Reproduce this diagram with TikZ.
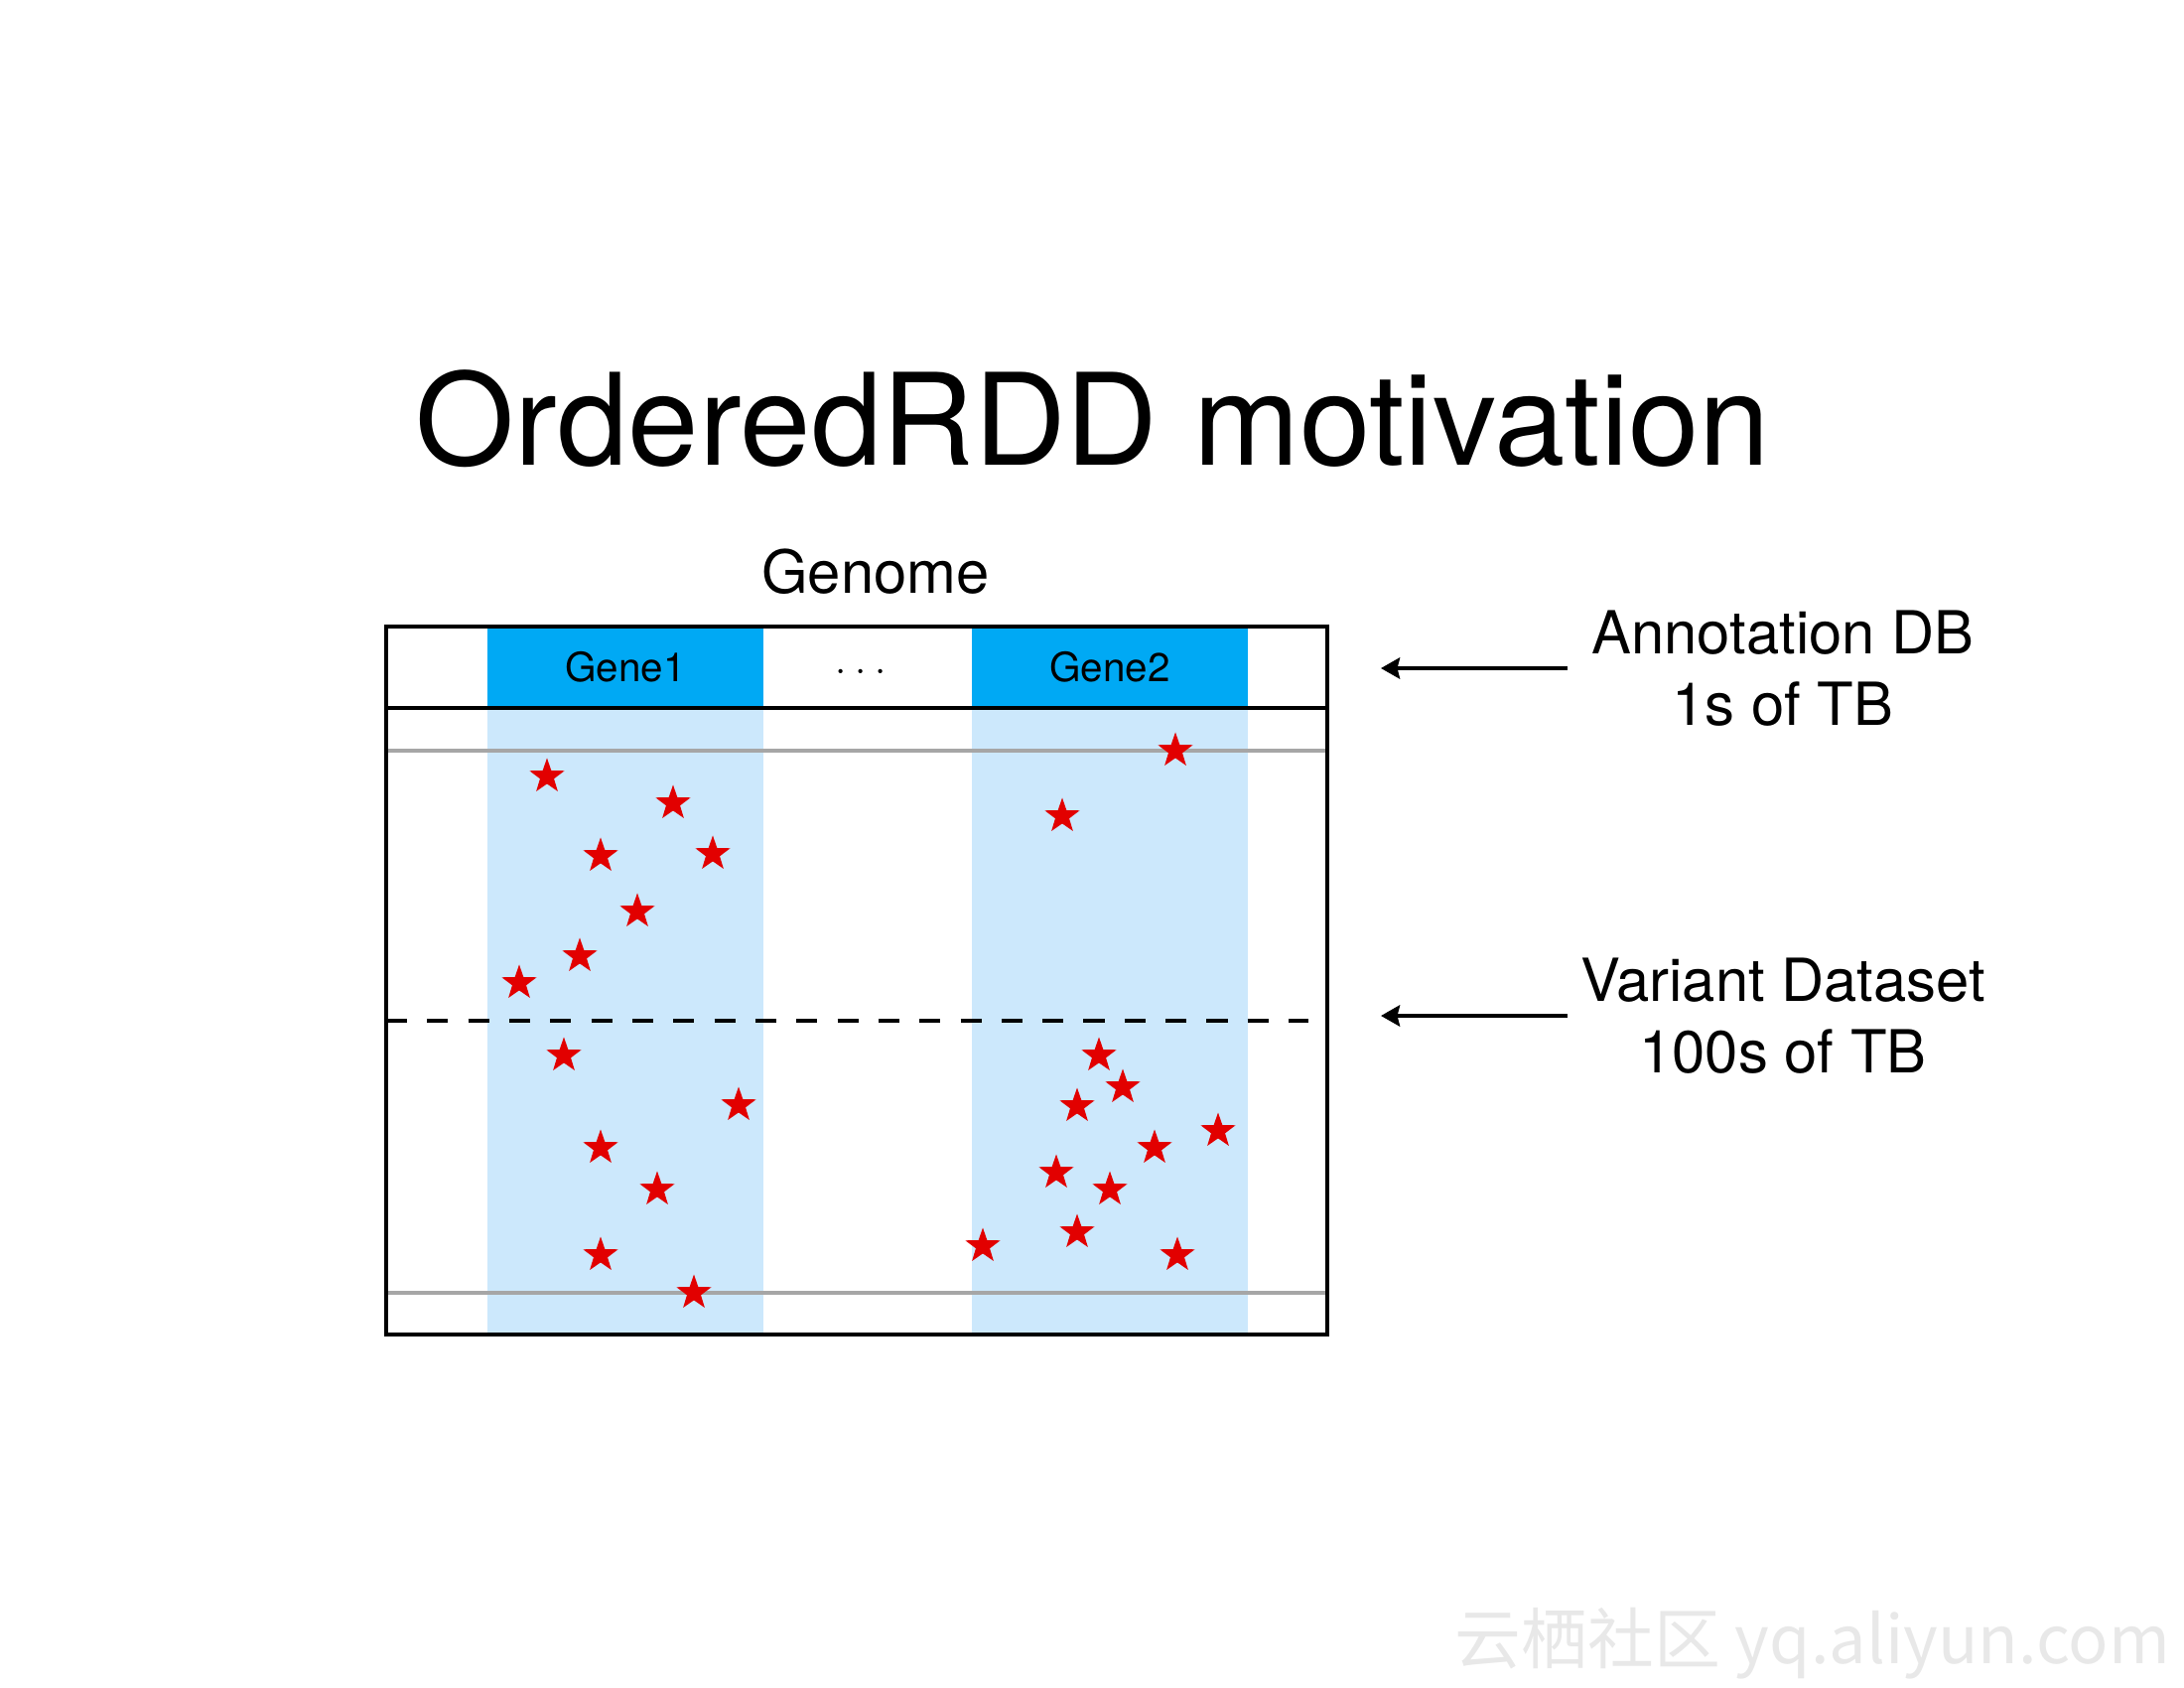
\documentclass[tikz,border=0pt]{standalone}
\usepackage{fontspec}
\setmainfont{TeX Gyre Heros}
\newfontfamily\cjkfont{Noto Sans CJK SC}
\usepackage{tikz}
\usetikzlibrary{arrows.meta, shapes.geometric}
\usepackage{xcolor}
\definecolor{geneHead}{RGB}{0, 169, 244}
\definecolor{geneBody}{RGB}{204, 232, 252}
\definecolor{variant}{RGB}{226, 0, 0}
\definecolor{rangeLine}{RGB}{166, 166, 166}

\tikzset{
  genebox/.style={fill=geneHead, minimum width=2.78cm, minimum height=0.82cm, inner sep=0pt, font=\fontsize{11.5}{13}\selectfont},
  varstar/.style={star, star points=5, star point ratio=2.5, fill=variant, minimum size=0.37cm, inner sep=0pt},
  sizelabel/.style={align=center, font=\fontsize{17}{20.5}\selectfont},
  tagarrow/.style={-{Stealth[length=5.4pt, width=6pt, inset=0.7pt]}, line width=1.4pt},
}

\begin{document}
\begin{tikzpicture}[x=0.01cm, y=-0.01cm]
  \useasboundingbox (0,0) rectangle (2200,1700);
  \node[font=\fontsize{36.5}{40}\selectfont, anchor=base] (title) at (1101,468) {OrderedRDD motivation};
  \node[font=\fontsize{17}{20}\selectfont, anchor=base] (genome) at (882,597) {Genome};

  % gene columns
  \fill[geneBody] (491,713) rectangle (769,1344);
  \fill[geneBody] (979,713) rectangle (1257,1344);
  \node[genebox] (gene1) at (630,672) {Gene1};
  \node[genebox] (gene2) at (1118,672) {Gene2};
  \node[font=\fontsize{11.5}{13}\selectfont, anchor=base] (gap) at (867,686) {·\hspace{2.4pt}·\hspace{2.4pt}·};

  \draw[rangeLine, line width=1.1pt] (389,756) -- (1337,756);
  \draw[rangeLine, line width=1.1pt] (389,1302) -- (1337,1302);
  \draw[line width=1.2pt, dash pattern=on 6pt off 5.75pt] (389,1028) -- (1318,1028);

  \foreach \x/\y [count=\i] in {551/782, 678/809, 605/862, 718/860, 642/918, 584/963, 523/990,
      568/1063, 744/1113, 605/1156, 662/1198, 605/1264, 699/1302,
      1184/756, 1070/822, 1107/1063, 1131/1095, 1085/1114, 1227/1139, 1163/1156,
      1064/1181, 1118/1198, 1085/1241, 990/1255, 1186/1264}
    \node[varstar] (var\i) at (\x,\y) {};

  \draw[line width=1.3pt] (389,631) rectangle (1337,1344);
  \draw[line width=1.3pt] (389,713) -- (1337,713);

  % sources
  \node[sizelabel] (annot) at (1796,673) {Annotation DB\\1s of TB};
  \node[sizelabel] (varset) at (1796,1023) {Variant Dataset\\100s of TB};
  \coordinate (tail) at (1579,0);
  \coordinate (annotTip) at (1391,673);
  \coordinate (varsetTip) at (1391,1023);
  \draw[tagarrow] (annot.west -| tail) -- (annotTip);
  \draw[tagarrow] (varset.west -| tail) -- (varsetTip);

  \node[font=\cjkfont\fontsize{19}{19}\selectfont, text=black!9] (mark) at (1826,1655) {云栖社区 yq.aliyun.com};
\end{tikzpicture}
\end{document}
